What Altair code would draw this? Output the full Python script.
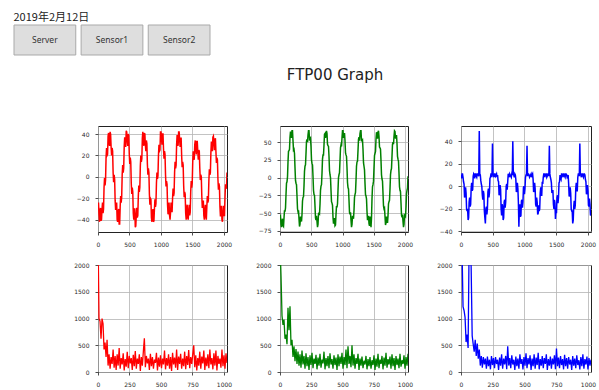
import altair as alt
import pandas as pd

# ---------------- text ----------------
date_label = "2019年2月12日"
buttons = ["Server", "Sensor1", "Sensor2"]
title_text = "FTP00 Graph"

# ---------------- time-domain series (one value every 8 samples) ----------------
red_time = [
    -28, -24, -35, -42, -32, -29, -41, -40, -30, -24, -34, -30, -10, -1, -8, -3, 18, 27, 20, 21, 38, 41, 32, 29, 42, 40, 28, 20, 27, 24, 4, -5,
    2, -2, -22, -31, -25, -24, -40, -42, -33, -30, -44, -44, -28, -18, -24, -19, 2, 11, 4, 8, 28, 37, 30, 28, 43, 42, 34, 29, 40, 39, 22, 12,
    18, 14, -6, -16, -10, -14, -34, -40, -30, -30, -47, -46, -36, -29, -38, -36, -18, -8, -14, -10, 10, 20, 14, 17, 36, 42, 33, 29, 41, 40, 30, 24,
    34, 31, 12, 2, 8, 4, -16, -26, -20, -21, -38, -42, -34, -30, -42, -41, -30, -21, -28, -25, -6, 4, -2, 1, 20, 30, 24, 25, 42, 42, 36, 30,
    40, 40, 26, 17, 24, 21, 2, -9, -4, -7, -26, -35, -28, -24, -36, -40, -33, -24, -30, -33, -20, -11, -18, -15, 4, 14, 8, 11, 30, 39, 32, 29,
    42, 42, 35, 28, 36, 36, 20, 9, 14, 11, -8, -19, -14, -16, -34, -40, -30, -26, -38, -40, -32, -26, -36, -33, -14, -4, -10, -6, 14, 24, 18, 16,
    30, 34, 26, 21, 33, 33, 24, 16, 25, 24, 8, -3, 2, 0, -18, -29, -24, -22, -36, -40, -32, -26, -37, -40, -28, -18, -24, -22, -4, 7, 2, 4,
    22, 33, 28, 24, 37, 38, 32, 25, 35, 36, 24, 13, 18, 16, -2, -12, -6, -9, -28, -37, -30, -27, -40, -42, -34, -27, -36, -36, -20, -7, -10, -11,
    4,
]
green_time = [
    -55, -54, -66, -70, -62, -58, -68, -69, -57, -46, -48, -43, -24, -8, -6, 1, 22, 37, 38, 40, 57, 65, 60, 56, 66, 66, 52, 39, 40, 34, 14, -4,
    -8, -10, -26, -44, -48, -46, -58, -69, -66, -55, -58, -62, -52, -33, -28, -27, -12, 9, 16, 18, 34, 51, 54, 50, 60, 66, 66, 54, 55, 56, 44, 25,
    20, 18, 2, -18, -24, -25, -40, -57, -60, -54, -62, -70, -66, -51, -50, -51, -38, -18, -12, -10, 6, 26, 32, 32, 46, 61, 62, 56, 63, 66, 62, 47,
    45, 44, 30, 10, 4, 0, -18, -34, -36, -39, -56, -65, -60, -57, -68, -67, -52, -40, -42, -37, -18, 0, 4, 7, 24, 42, 46, 44, 56, 66, 66, 56,
    60, 63, 52, 35, 32, 30, 14, -7, -14, -16, -32, -49, -52, -49, -60, -70, -66, -54, -56, -58, -46, -28, -24, -21, -4, 16, 22, 23, 38, 54, 57, 52,
    62, 66, 66, 52, 52, 53, 40, 21, 16, 11, -8, -24, -26, -30, -48, -60, -57, -54, -65, -68, -56, -56, -70, -57, -30, -13, -10, -5, 14, 31, 34, 37,
    54, 64, 60, 55, 64, 66, 58, 43, 42, 40, 24, 4, -2, -5, -22, -40, -44, -43, -55, -67, -64, -55, -60, -64, -54, -37, -34, -32, -16, 4, 10, 13,
    30, 47, 50, 47, 58, 66, 65, 55, 58, 60, 48, 30, 26, 23, 6, -13, -18, -20, -36, -53, -56, -52, -62, -70, -66, -53, -54, -55, -42, -23, -18, -15,
    2,
]
blue_time = [
    10, 7, 11, 11, 8, 4, 2, -10, -8, -1, -6, -20, -22, -20, -30, -28, -14, -10, -18, -16, -2, 3, -4, -3, 9, 11, 10, 7, 11, 11, 9, 8,
    11, 11, 10, 9, 49, 11, 10, 5, 2, 0, -8, -12, -4, -7, -22, -28, -33, -20, -18, -25, -20, -5, -2, -10, -6, 7, 8, 11, 11, 8, 38, 11,
    10, 8, 11, 11, 9, 10, 11, 8, 10, 5, 4, -8, -6, 1, -3, -20, -26, -16, -18, -30, -28, -14, -12, -19, -14, 0, 2, -3, 4, 11, 10, 8,
    11, 10, 9, 8, 11, 10, 40, 11, 10, 8, 11, 10, 6, -5, -4, 3, -2, -14, -36, -20, -16, -27, -26, -13, -12, -19, -14, -1, 0, -7, -2, 8,
    10, 11, 36, 9, 11, 11, 10, 8, 9, 10, 11, 8, 10, 11, 6, -5, -4, 3, -2, -16, -18, -10, -14, -25, -24, -17, -22, -20, -6, -1, -8, -8,
    4, 2, 8, 11, 11, 8, 10, 11, 11, 8, 9, 11, 11, 9, 36, 11, 8, 6, 3, -6, -4, -4, -16, -20, -12, -15, -29, -22, -24, -10, -8, -15,
    -10, 3, 4, 10, 7, 6, 11, 11, 10, 8, 11, 11, 9, 8, 11, 11, 10, 8, 9, 10, 2, -9, -8, -1, -6, -20, -22, -22, -33, -30, -18, -13,
    -20, -17, -2, 3, -4, -4, 8, 11, 11, 9, 38, 11, 10, 8, 11, 11, 9, 8, 11, 11, 10, 6, 4, -7, -6, 1, -4, -17, -18, -11, -16, -26,
    -25,
]

# ---------------- spectra (one value every 8 bins) ----------------
red_freq = [
    2600, 1000, 950, 620, 1000, 900, 420, 550, 280, 600, 120, 330, 60, 280, 150, 420,
    80, 300, 40, 330, 120, 450, 60, 260, 140, 350, 30, 240, 100, 380, 70, 300,
    160, 260, 40, 320, 110, 390, 60, 250, 150, 330, 20, 280, 120, 380, 630, 90,
    300, 160, 250, 40, 340, 110, 280, 60, 230, 170, 360, 30, 270, 100, 310, 70,
    250, 140, 400, 50, 260, 120, 330, 60, 280, 20, 360, 140, 270, 80, 420, 40,
    290, 150, 340, 60, 250, 110, 380, 50, 300, 130, 410, 70, 280, 150, 330, 500,
    90, 310, 30, 260, 120, 380, 60, 290, 160, 400, 40, 270, 110, 330, 70, 420,
    140, 260, 50, 350, 120, 400, 30, 300, 150, 250, 80, 420, 110, 310, 60, 350,
    170,
]
green_freq = [
    2400, 1800, 1050, 880, 980, 620, 700, 520, 1200, 780, 1230, 500, 600, 280, 480, 200,
    430, 150, 380, 120, 330, 80, 400, 140, 300, 60, 350, 110, 280, 40, 310, 130,
    360, 70, 250, 150, 320, 50, 270, 120, 340, 80, 230, 160, 380, 50, 260, 110,
    300, 70, 350, 140, 240, 60, 310, 130, 270, 40, 330, 110, 290, 150, 360, 60,
    280, 130, 420, 70, 480, 150, 300, 90, 500, 120, 330, 60, 260, 150, 340, 40,
    250, 120, 290, 70, 210, 140, 300, 50, 240, 110, 280, 60, 220, 130, 310, 40,
    250, 100, 340, 70, 230, 150, 300, 50, 270, 120, 360, 80, 240, 140, 290, 60,
    330, 110, 260, 40, 300, 130, 250, 70, 340, 100, 220, 150, 310, 60, 280, 120,
    340,
]
blue_freq = [
    2600, 2300, 1220, 1150, 1020, 560, 700, 450, 2400, 2500, 1950, 680, 520, 380, 600, 300,
    530, 250, 420, 120, 300, 80, 280, 140, 250, 60, 290, 110, 230, 50, 300, 130,
    260, 70, 280, 150, 230, 40, 270, 120, 330, 60, 250, 140, 300, 50, 480, 120,
    260, 70, 310, 140, 230, 40, 290, 110, 250, 60, 330, 150, 240, 50, 280, 120,
    350, 70, 260, 140, 310, 40, 250, 110, 330, 60, 270, 130, 360, 50, 240, 120,
    300, 70, 260, 150, 330, 40, 240, 120, 290, 60, 250, 140, 310, 50, 440, 110,
    270, 70, 300, 130, 240, 50, 320, 110, 260, 60, 280, 140, 230, 40, 300, 120,
    250, 70, 310, 130, 220, 50, 280, 110, 330, 60, 240, 140, 290, 50, 260, 120,
    230,
]

# ---------------- ticks / limits ----------------
t_ticks = [0, 500, 1000, 1500, 2000]
f_ticks = [0, 250, 500, 750, 1000]
red_time_ticks = [-40, -20, 0, 20, 40]
green_time_ticks = [-75, -50, -25, 0, 25, 50]
blue_time_ticks = [-40, -20, 0, 20, 40]
spec_ticks = [0, 500, 1000, 1500, 2000]

t_limits = [0, 2048]
f_limits = [0, 1024]
red_time_limits = [-51.5, 47.5]
green_time_limits = [-76.8, 72.8]
blue_time_limits = [-40.6, 53.5]
spec_limits = [0, 2000]


def sample_index(series, step):
    return list(range(0, step * len(series), step))


def axis(values, first=False):
    kw = dict(
        values=values, title=None, format="d", labelFontSize=6, labelColor="#2a2a2a",
        labelFont="DejaVu Sans", tickSize=3, tickColor="#222222", tickWidth=0.8,
        labelPadding=6, gridColor="#b4b4b4", gridWidth=0.8, domain=False,
        labelOverlap=False, labelFlush=False,
    )
    if first:
        kw["minExtent"] = 85
    return alt.Axis(**kw)


def panel(ys, step, color, xdom, ydom, xticks, yticks, width, height, sw, first=False):
    df = pd.DataFrame({"x": sample_index(ys, step), "y": ys})
    return (
        alt.Chart(df)
        .mark_line(color=color, strokeWidth=sw, clip=True)
        .encode(
            x=alt.X("x:Q", scale=alt.Scale(domain=xdom, nice=False, zero=False), axis=axis(xticks)),
            y=alt.Y("y:Q", scale=alt.Scale(domain=ydom, nice=False, zero=False), axis=axis(yticks, first)),
        )
        .properties(width=width, height=height,
                    view=alt.ViewBackground(stroke="#222222", strokeWidth=1, fill="white"))
    )


p1 = panel(red_time, 8, "#ff0000", t_limits, red_time_limits, t_ticks, red_time_ticks, 129, 106, 1.5, True)
p2 = panel(green_time, 8, "#008000", t_limits, green_time_limits, t_ticks, green_time_ticks, 128, 106, 1.5)
p3 = panel(blue_time, 8, "#0000ff", t_limits, blue_time_limits, t_ticks, blue_time_ticks, 130, 106, 1.5)
p4 = panel(red_freq, 8, "#ff0000", f_limits, spec_limits, f_ticks, spec_ticks, 129, 107, 1.3, True)
p5 = panel(green_freq, 8, "#008000", f_limits, spec_limits, f_ticks, spec_ticks, 128, 107, 1.3)
p6 = panel(blue_freq, 8, "#0000ff", f_limits, spec_limits, f_ticks, spec_ticks, 130, 107, 1.3)

grid = alt.concat(p1, p2, p3, p4, p5, p6, columns=3,
                  spacing={"row": 33, "column": 53}, bounds="flush", align="each")

# ---------------- header (positions relative to the first panel's left edge) ----------------
btn_df = pd.DataFrame({"label": buttons})
btn_x = alt.X("label:N", sort=buttons,
              scale=alt.Scale(range=[-84, 112], paddingInner=0.08, paddingOuter=0), axis=None)
btn_rect = alt.Chart(btn_df).mark_rect(fill="#dedede", stroke="#a9a9a9", strokeWidth=1).encode(
    x=btn_x, y=alt.value(16), y2=alt.value(46))
btn_text = alt.Chart(btn_df).mark_text(font="Noto Sans", fontSize=8.5, color="#333333",
                                       baseline="middle").encode(
    x=btn_x, y=alt.value(31), text="label:N")
date_mark = alt.Chart(pd.DataFrame({"label": [date_label]})).mark_text(
    align="left", baseline="alphabetic", font="Noto Sans CJK JP", fontSize=11, color="#222222"
).encode(x=alt.value(-84.5), y=alt.value(12), text="label:N")
title_mark = alt.Chart(pd.DataFrame({"label": [title_text]})).mark_text(
    align="center", baseline="alphabetic", font="DejaVu Sans", fontSize=15, color="#222222"
).encode(x=alt.value(237), y=alt.value(70.7), text="label:N")

header = alt.layer(btn_rect, btn_text, date_mark, title_mark).properties(
    width=300, height=76, view=alt.ViewBackground(stroke="transparent"))

chart = (
    alt.vconcat(header, grid, spacing=39)
    .properties(padding={"left": 12, "top": 8, "right": 0, "bottom": 0}, background="white")
    .configure_view(stroke="transparent")
)

chart.save("out.html", embed_options={"renderer": "svg", "actions": False})
